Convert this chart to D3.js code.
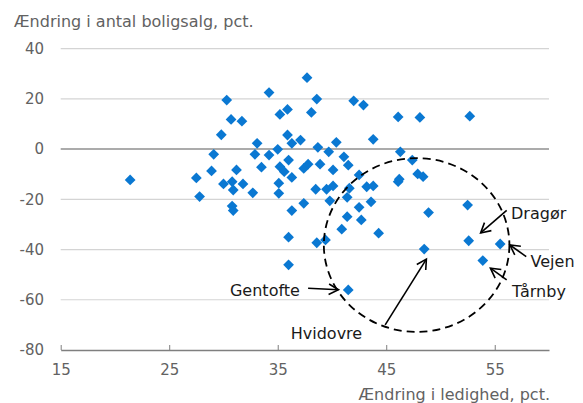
<!DOCTYPE html>
<html><head><meta charset="utf-8">
<script src="https://cdn.jsdelivr.net/npm/d3@7"></script>
<style>body{margin:0;background:#fff;} svg{display:block;font-family:"DejaVu Sans",sans-serif;}</style>
</head><body>
<script>
// Data: [Ændring i ledighed, Ændring i antal boligsalg]
const xVals = [21.4,27.5,27.8,28.9,29.1,29.8,30.3,30.7,31.7,30.0,30.8,31.8,30.9,31.2,30.8,30.9,32.7,33.1,32.9,33.5,
  34.2,34.2,35.0,35.2,35.9,35.9,36.3,37.1,35.2,35.6,36.0,35.1,35.1,36.3,36.3,36.0,36.0,37.7,38.1,38.6,
  37.4,37.8,38.7,38.9,37.4,38.5,38.6,39.4,39.7,40.1,40.4,39.5,40.1,39.8,41.1,41.5,41.6,41.4,41.4,40.9,
  41.5,42.0,42.9,42.5,43.2,43.8,42.5,43.6,42.7,43.8,44.3,46.1,48.1,52.7,46.3,47.4,46.1,46.2,47.9,48.4,
  48.9,52.5,52.6,48.5,55.5,53.9];
const yVals = [-12.3,-11.5,-18.9,-8.7,-2.1,5.7,19.5,11.8,11.1,-13.9,-13.0,-13.9,-16.3,-8.3,-22.7,-24.5,-17.4,2.3,-2.1,-7.2,
  22.5,-2.4,-0.1,13.8,15.8,5.6,2.3,3.6,-7.0,-9.0,-4.4,-13.6,-17.6,-11.3,-24.5,-35.1,-46.1,28.4,14.6,19.9,
  -7.7,-6.0,0.7,-6.0,-21.6,-16.0,-37.3,-36.2,-1.1,-8.3,2.7,-16.0,-14.7,-20.6,-3.1,-6.4,-15.6,-19.2,-26.9,-31.9,
  -56.1,19.2,17.5,-10.3,-15.0,-14.7,-23.2,-21.0,-28.2,3.9,-33.5,12.8,12.6,13.1,-1.1,-4.4,-13.0,-12.0,-9.9,-11.0,
  -25.3,-22.3,-36.5,-39.8,-37.8,-44.4];
const xTicks = [15,25,35,45,55];
const yTicks = [40,20,0,-20,-40,-60,-80];
const xDomain = [15,60];
const yDomain = [-80,40];
const yTitle = "Ændring i antal boligsalg, pct.";
const xTitle = "Ændring i ledighed, pct.";
// Ellipse (data units): center and radii
const ellipse = {cx:47.8, cy:-38.2, rx:8.55, ry:34.6};
// Annotations: label position, arrow from -> to (data units)
const annotations = [
  {label:"Gentofte", lx:30.6, ly:-58.6, from:[37.8,-55.4], to:[40.6,-56.0]},
  {label:"Hvidovre", lx:36.2, ly:-75.6, from:[44.9,-70.0], to:[48.7,-43.8]},
  {label:"Dragør", lx:56.5, ly:-27.8, from:[56.1,-24.4], to:[53.7,-33.4]},
  {label:"Vejen", lx:58.3, ly:-46.8, from:[57.9,-42.8], to:[56.4,-38.2]},
  {label:"Tårnby", lx:56.6, ly:-58.7, from:[56.1,-52.1], to:[54.6,-47.4]}
];

const W = 583, H = 403;
const svg = d3.select("body").append("svg").attr("width", W).attr("height", H);
const x = d3.scaleLinear().domain(xDomain).range([60.7, 549]);
const y = d3.scaleLinear().domain(yDomain).range([350, 48.6]);

// gridlines
svg.append("g").selectAll("line").data(yTicks.filter(d => d !== -80)).join("line")
  .attr("x1", x(15)).attr("x2", x(60))
  .attr("y1", d => y(d)).attr("y2", d => y(d))
  .attr("stroke", d => d === 0 ? "#8f8f8f" : "#d4d4d4")
  .attr("stroke-width", d => d === 0 ? 1.6 : 1.2);

// y labels
svg.append("g").selectAll("text").data(yTicks).join("text")
  .attr("x", 44).attr("y", d => y(d)).attr("dy", "0.36em")
  .attr("text-anchor", "end").attr("font-size", 15).attr("fill", "#626262")
  .text(d => d);

// x axis
const xAxis = d3.axisBottom(x).tickValues(xTicks).tickSize(-5).tickPadding(14).tickSizeOuter(0);
const gx = svg.append("g").attr("transform", `translate(0,${y(-80)})`).call(xAxis);
gx.select(".domain").attr("stroke", "#7f7f7f").attr("stroke-width", 1.3);
gx.selectAll(".tick line").attr("stroke", "#7f7f7f").attr("stroke-width", 1);
gx.selectAll(".tick text").attr("font-size", 15).attr("fill", "#626262").attr("font-family", "DejaVu Sans, sans-serif");

// titles
svg.append("text").attr("x", 14).attr("y", 27).attr("font-size", 16).attr("fill", "#626262").text(yTitle);
svg.append("text").attr("x", 550).attr("y", 400).attr("text-anchor", "end").attr("font-size", 16).attr("fill", "#626262").text(xTitle);

// points
const data = xVals.map((v, i) => ({x: v, y: yVals[i]}));
const sym = d3.symbol().type(d3.symbolSquare).size(58);
svg.append("g").selectAll("path").data(data).join("path")
  .attr("d", sym)
  .attr("transform", d => `translate(${x(d.x)},${y(d.y)}) rotate(45)`)
  .attr("fill", "#0a78d2");

// dashed ellipse
svg.append("ellipse")
  .attr("cx", x(ellipse.cx)).attr("cy", y(ellipse.cy))
  .attr("rx", x(ellipse.cx + ellipse.rx) - x(ellipse.cx))
  .attr("ry", y(ellipse.cy - ellipse.ry) - y(ellipse.cy))
  .attr("fill", "none").attr("stroke", "#000").attr("stroke-width", 1.8)
  .attr("stroke-dasharray", "8,5");

// annotations
const ag = svg.append("g");
annotations.forEach(a => {
  const x1 = x(a.from[0]), y1 = y(a.from[1]), x2 = x(a.to[0]), y2 = y(a.to[1]);
  ag.append("line").attr("x1", x1).attr("y1", y1).attr("x2", x2).attr("y2", y2)
    .attr("stroke", "#000").attr("stroke-width", 1.6);
  const ang = Math.atan2(y2 - y1, x2 - x1), L = 11, sp = 0.5;
  const p1 = [x2 - L * Math.cos(ang - sp), y2 - L * Math.sin(ang - sp)];
  const p2 = [x2 - L * Math.cos(ang + sp), y2 - L * Math.sin(ang + sp)];
  ag.append("path").attr("d", `M${p1[0]},${p1[1]}L${x2},${y2}L${p2[0]},${p2[1]}`)
    .attr("fill", "none").attr("stroke", "#000").attr("stroke-width", 1.6);
  ag.append("text").attr("x", x(a.lx)).attr("y", y(a.ly)).attr("text-anchor", "start")
    .attr("font-size", 16).attr("fill", "#1a1a1a").text(a.label);
});
</script>
</body></html>
